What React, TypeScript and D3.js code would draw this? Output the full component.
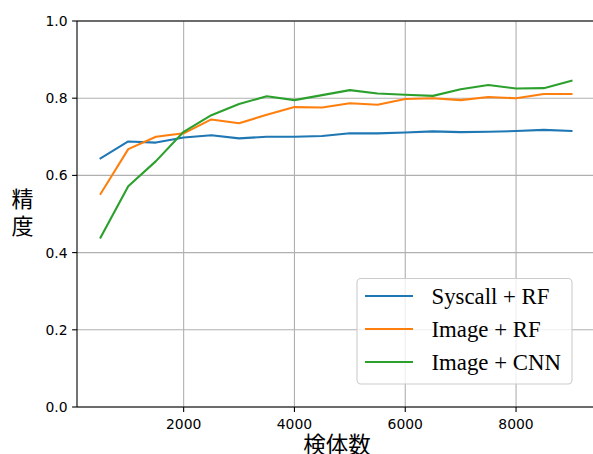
import React from "react";
import * as d3 from "d3";

const xValues = [500, 1000, 1500, 2000, 2500, 3000, 3500, 4000, 4500, 5000, 5500, 6000, 6500, 7000, 7500, 8000, 8500, 9000];
const syscallRF = [0.644, 0.688, 0.685, 0.698, 0.704, 0.696, 0.700, 0.700, 0.702, 0.709, 0.709, 0.711, 0.714, 0.712, 0.713, 0.715, 0.718, 0.715];
const imageRF = [0.552, 0.668, 0.700, 0.709, 0.745, 0.735, 0.757, 0.777, 0.776, 0.787, 0.783, 0.798, 0.800, 0.795, 0.803, 0.800, 0.811, 0.811];
const imageCNN = [0.439, 0.572, 0.637, 0.713, 0.756, 0.785, 0.805, 0.795, 0.808, 0.821, 0.812, 0.809, 0.806, 0.823, 0.834, 0.825, 0.826, 0.845];
const seriesNames = ["Syscall + RF", "Image + RF", "Image + CNN"];
const seriesColors = ["#1f77b4", "#ff7f0e", "#2ca02c"];
const xTicks = [2000, 4000, 6000, 8000];
const yTicks = [0, 0.2, 0.4, 0.6, 0.8, 1.0];
const xLabel = "検体数";
const yLabelChars = ["精", "度"];

const W = 593, H = 454;
const left = 77, right = 595, top = 21, bottom = 407;

export default function App() {
  const x = d3.scaleLinear().domain([75, 9425]).range([left, right]);
  const y = d3.scaleLinear().domain([0, 1]).range([bottom, top]);
  const allSeries = [syscallRF, imageRF, imageCNN];
  const line = d3.line<number>().x((_, i) => x(xValues[i])).y((d) => y(d));
  const tickFont = "'DejaVu Sans', sans-serif";
  const legX = 357, legY = 278.5, legW = 215, legH = 105.5;
  const legRows = [296, 329, 362];
  return (
    <svg width={W} height={H} style={{ position: "absolute", left: 0, top: 0, background: "#fff" }}>
      <rect x={0} y={0} width={W} height={H} fill="#fff" />
      {/* grid */}
      {xTicks.map((t) => (
        <line key={"gx" + t} x1={x(t)} x2={x(t)} y1={top} y2={bottom} stroke="#b0b0b0" strokeWidth={1.1} />
      ))}
      {yTicks.map((t) => (
        <line key={"gy" + t} x1={left} x2={right} y1={y(t)} y2={y(t)} stroke="#b0b0b0" strokeWidth={1.1} />
      ))}
      {/* lines */}
      {allSeries.map((s, i) => (
        <path key={"s" + i} d={line(s) || ""} fill="none" stroke={seriesColors[i]} strokeWidth={2.1} strokeLinejoin="round" strokeLinecap="square" />
      ))}
      {/* spines */}
      <line x1={left} x2={left} y1={top} y2={bottom} stroke="#000" strokeWidth={1.1} />
      <line x1={left} x2={right} y1={top} y2={top} stroke="#000" strokeWidth={1.1} />
      <line x1={left} x2={right} y1={bottom} y2={bottom} stroke="#000" strokeWidth={1.1} />
      <line x1={right} x2={right} y1={top} y2={bottom} stroke="#000" strokeWidth={1.1} />
      {/* ticks */}
      {xTicks.map((t) => (
        <g key={"tx" + t}>
          <line x1={x(t)} x2={x(t)} y1={bottom} y2={bottom + 4.9} stroke="#000" strokeWidth={1.1} />
          <text x={x(t)} y={429} fontFamily={tickFont} fontSize={13.9} textAnchor="middle" fill="#000">{t}</text>
        </g>
      ))}
      {yTicks.map((t) => (
        <g key={"ty" + t}>
          <line x1={left - 4.9} x2={left} y1={y(t)} y2={y(t)} stroke="#000" strokeWidth={1.1} />
          <text x={67.5} y={y(t) + 5} fontFamily={tickFont} fontSize={13.9} textAnchor="end" fill="#000">{t.toFixed(1)}</text>
        </g>
      ))}
      {/* axis labels */}
      <text x={337} y={452.5} fontFamily="'Noto Sans CJK JP', sans-serif" fontSize={22.5} textAnchor="middle" fill="#000">{xLabel}</text>
      <text fontFamily="'Noto Sans CJK JP', sans-serif" fontSize={22} textAnchor="middle" fill="#000">
        {yLabelChars.map((c, i) => (
          <tspan key={"yl" + i} x={22.5} y={207 + i * 26.5}>{c}</tspan>
        ))}
      </text>
      {/* legend */}
      <rect x={legX} y={legY} width={legW} height={legH} rx={4} ry={4} fill="#fff" fillOpacity={0.8} stroke="#cccccc" strokeWidth={1.1} />
      {seriesNames.map((n, i) => (
        <g key={"lg" + i}>
          <line x1={365} x2={413} y1={legRows[i]} y2={legRows[i]} stroke={seriesColors[i]} strokeWidth={2.1} />
          <text x={431.5} y={legRows[i] + 8} fontFamily="'Liberation Serif', 'Times New Roman', serif" fontSize={22.8} fill="#000">{n}</text>
        </g>
      ))}
    </svg>
  );
}
